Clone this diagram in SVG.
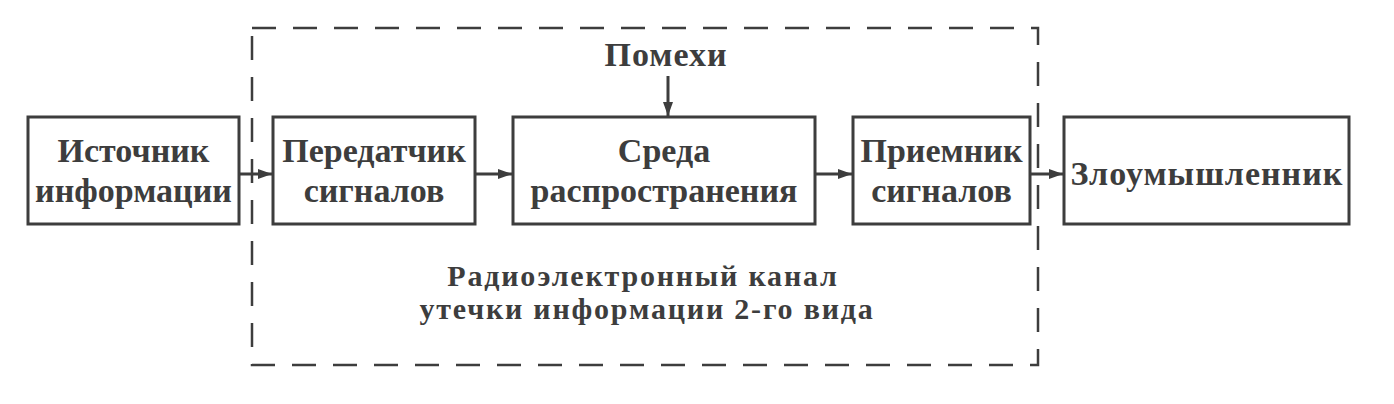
<svg xmlns="http://www.w3.org/2000/svg" width="1394" height="404" viewBox="0 0 1394 404">
<defs>
<marker id="ah" viewBox="0 0 14 10" refX="14" refY="5" markerWidth="14" markerHeight="10" markerUnits="userSpaceOnUse" orient="auto">
<path d="M0,0 L14,5 L0,10 Z" fill="#3d3d3d"/>
</marker>
</defs>
<style>
.box{fill:none;stroke:#3d3d3d;stroke-width:3}
.lbl{font-family:"Liberation Serif","Times New Roman",serif;font-weight:bold;fill:#3d3d3d;text-anchor:middle}
.big{font-size:34px}
.cap{font-size:30px;letter-spacing:1.8px}
.con{stroke:#3d3d3d;stroke-width:3;fill:none;marker-end:url(#ah)}
.dash{fill:none;stroke:#3d3d3d;stroke-width:2.5;stroke-dasharray:24 17}
</style>
<rect width="1394" height="404" fill="#ffffff"/>
<g id="channel">
<rect class="dash" x="252" y="28" width="786" height="337"/>
<text class="lbl cap" x="643" y="286">Радиоэлектронный канал</text>
<text class="lbl cap" x="647" y="319">утечки информации 2-го вида</text>
</g>
<g id="n1">
<rect class="box" x="28" y="117" width="211" height="107"/>
<text class="lbl big" x="133.5" y="162">Источник</text>
<text class="lbl big" x="133.5" y="202">информации</text>
</g>
<g id="n2">
<rect class="box" x="273" y="117" width="202" height="107"/>
<text class="lbl big" x="374" y="162">Передатчик</text>
<text class="lbl big" x="374" y="202">сигналов</text>
</g>
<g id="n3">
<rect class="box" x="513" y="117" width="302" height="107"/>
<text class="lbl big" x="664" y="162">Среда</text>
<text class="lbl big" x="664" y="202">распространения</text>
</g>
<g id="n4">
<rect class="box" x="853" y="117" width="177" height="107"/>
<text class="lbl big" x="941.5" y="162">Приемник</text>
<text class="lbl big" x="941.5" y="202">сигналов</text>
</g>
<g id="n5">
<rect class="box" x="1064" y="117" width="285" height="107"/>
<text class="lbl big" x="1207" y="185" style="letter-spacing:1px">Злоумышленник</text>
</g>
<g id="noise">
<text class="lbl big" x="666" y="66" style="letter-spacing:1px">Помехи</text>
</g>
<g id="connectors">
<line class="con" x1="239" y1="174" x2="272" y2="174"/>
<line class="con" x1="475" y1="174" x2="512" y2="174"/>
<line class="con" x1="815" y1="174" x2="852" y2="174"/>
<line class="con" x1="1030" y1="174" x2="1063" y2="174"/>
<line class="con" x1="668" y1="76" x2="668" y2="116"/>
</g>
</svg>
